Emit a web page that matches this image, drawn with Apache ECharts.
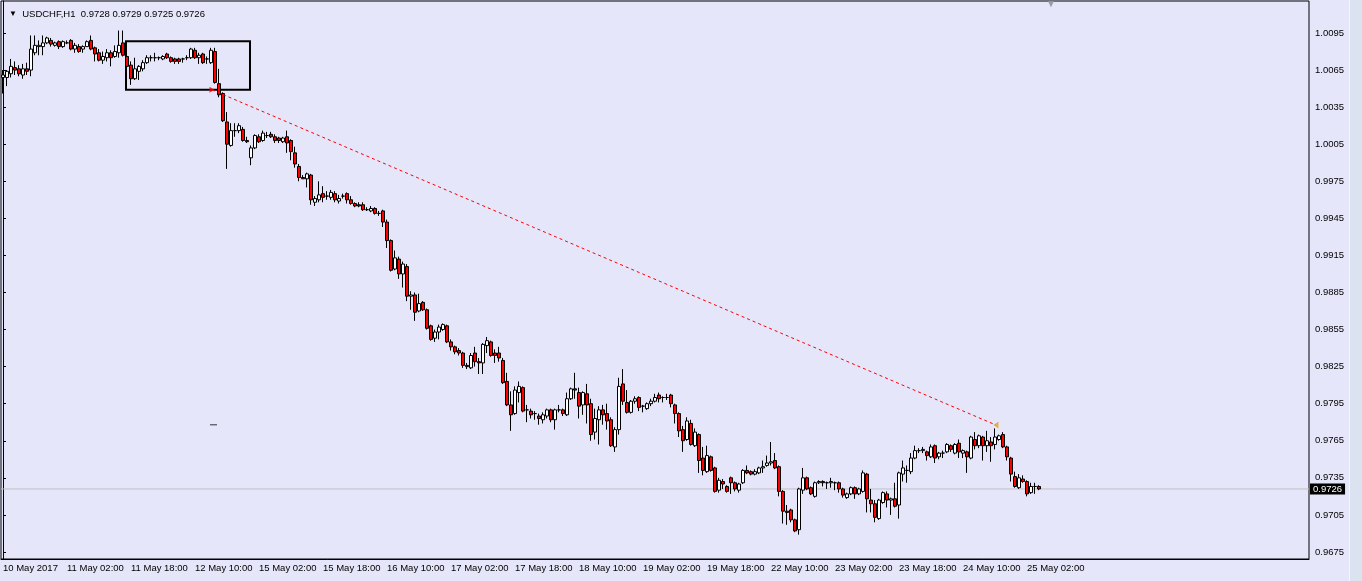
<!DOCTYPE html>
<html>
<head>
<meta charset="utf-8">
<title>USDCHF,H1</title>
<script src="https://cdn.jsdelivr.net/npm/echarts@6/dist/echarts.min.js"></script>
<style>
  html, body { margin: 0; padding: 0; background: #E6E6FA; overflow: hidden; }
  #chart { position: absolute; left: 0; top: 0; width: 1362px; height: 581px; }
  .side { position: absolute; left: 1349px; top: 0; width: 13px; height: 581px;
          background: #DAE3EF; border-left: 1px solid #F4F6FA; box-sizing: border-box; }
</style>
</head>
<body>
<div id="chart"></div>
<div class="side"></div>
<script>
// hourly bars, first one is 10 May 2017 10:00 (weekends skipped)
const opens = [
  1.0059,1.0059,1.0062,1.0067,1.0066,1.0061,1.0066,1.0065,1.0079,1.0084,
  1.0084,1.0087,1.0089,1.0085,1.0088,1.0084,1.0087,1.0089,1.0082,1.0084,
  1.0082,1.0084,1.0089,1.0083,1.0079,1.0073,1.0075,1.0079,1.0076,1.0079,
  1.0087,1.0076,1.0069,1.0058,1.0064,1.0066,1.0071,1.0075,1.0075,1.0075,
  1.0074,1.0078,1.0075,1.0074,1.0074,1.0074,1.0075,1.0075,1.0081,1.0075,
  1.0078,1.0074,1.0071,1.0080,1.0054,1.0046,1.0023,1.0004,1.0016,1.0016,
  1.0017,1.0008,0.9994,1.0002,1.0011,1.0008,1.0012,1.0013,1.0011,1.0010,
  1.0007,1.0011,1.0008,0.9998,0.9987,0.9978,0.9977,0.9980,0.9958,0.9960,
  0.9965,0.9963,0.9962,0.9965,0.9959,0.9963,0.9965,0.9960,0.9957,0.9956,
  0.9956,0.9952,0.9951,0.9953,0.9949,0.9951,0.9942,0.9927,0.9904,0.9912,
  0.9900,0.9906,0.9882,0.9883,0.9870,0.9877,0.9871,0.9858,0.9848,0.9853,
  0.9855,0.9858,0.9845,0.9841,0.9838,0.9836,0.9826,0.9824,0.9836,0.9829,
  0.9828,0.9842,0.9845,0.9836,0.9836,0.9830,0.9813,0.9794,0.9787,0.9804,
  0.9808,0.9790,0.9789,0.9787,0.9785,0.9782,0.9785,0.9790,0.9782,0.9790,
  0.9790,0.9786,0.9799,0.9807,0.9804,0.9794,0.9803,0.9795,0.9772,0.9782,
  0.9790,0.9787,0.9782,0.9760,0.9774,0.9811,0.9796,0.9788,0.9797,0.9800,
  0.9793,0.9791,0.9795,0.9797,0.9802,0.9800,0.9800,0.9802,0.9794,0.9787,
  0.9774,0.9766,0.9779,0.9761,0.9770,0.9751,0.9740,0.9752,0.9743,0.9725,
  0.9732,0.9728,0.9735,0.9731,0.9725,0.9731,0.9741,0.9740,0.9738,0.9739,
  0.9743,0.9745,0.9747,0.9749,0.9744,0.9724,0.9708,0.9709,0.9701,0.9693,
  0.9725,0.9735,0.9727,0.9720,0.9731,0.9732,0.9731,0.9731,0.9731,0.9731,
  0.9726,0.9719,0.9722,0.9727,0.9722,0.9724,0.9738,0.9717,0.9714,0.9702,
  0.9715,0.9722,0.9717,0.9718,0.9713,0.9738,0.9741,0.9740,0.9751,0.9757,
  0.9757,0.9756,0.9752,0.9761,0.9752,0.9755,0.9756,0.9761,0.9755,0.9763,
  0.9755,0.9756,0.9751,0.9766,0.9761,0.9768,0.9761,0.9764,0.9762,0.9766,
  0.9770,0.9760,0.9751,0.9736,0.9727,0.9734,0.9732,0.9723,0.9728,0.9728
];
const closes = [
  1.0061,1.0064,1.0068,1.0065,1.0062,1.0066,1.0064,1.0082,1.0085,1.0085,
  1.0087,1.0091,1.0086,1.0087,1.0084,1.0088,1.0087,1.0082,1.0085,1.0080,
  1.0084,1.0088,1.0082,1.0078,1.0073,1.0076,1.0079,1.0075,1.0080,1.0085,
  1.0077,1.0068,1.0058,1.0066,1.0068,1.0071,1.0075,1.0075,1.0075,1.0075,
  1.0076,1.0075,1.0072,1.0072,1.0072,1.0074,1.0075,1.0082,1.0075,1.0077,
  1.0071,1.0074,1.0081,1.0055,1.0045,1.0024,1.0005,1.0016,1.0016,1.0020,
  1.0008,1.0007,1.0002,1.0012,1.0007,1.0014,1.0012,1.0011,1.0008,1.0008,
  1.0010,1.0006,0.9999,0.9989,0.9978,0.9977,0.9981,0.9960,0.9961,0.9964,
  0.9962,0.9963,0.9966,0.9960,0.9961,0.9963,0.9960,0.9957,0.9955,0.9955,
  0.9952,0.9952,0.9953,0.9949,0.9949,0.9942,0.9927,0.9903,0.9913,0.9900,
  0.9908,0.9882,0.9883,0.9869,0.9876,0.9871,0.9856,0.9847,0.9853,0.9857,
  0.9859,0.9845,0.9841,0.9837,0.9836,0.9826,0.9825,0.9834,0.9829,0.9828,
  0.9843,0.9846,0.9834,0.9834,0.9832,0.9812,0.9794,0.9786,0.9806,0.9809,
  0.9789,0.9790,0.9786,0.9787,0.9783,0.9786,0.9790,0.9782,0.9790,0.9790,
  0.9787,0.9799,0.9807,0.9806,0.9793,0.9804,0.9794,0.9770,0.9783,0.9790,
  0.9786,0.9781,0.9761,0.9774,0.9809,0.9797,0.9788,0.9797,0.9799,0.9792,
  0.9793,0.9795,0.9797,0.9800,0.9799,0.9800,0.9800,0.9795,0.9787,0.9773,
  0.9765,0.9781,0.9762,0.9772,0.9749,0.9741,0.9753,0.9741,0.9724,0.9733,
  0.9730,0.9724,0.9731,0.9726,0.9730,0.9741,0.9739,0.9738,0.9740,0.9743,
  0.9744,0.9747,0.9748,0.9743,0.9724,0.9708,0.9707,0.9701,0.9692,0.9726,
  0.9735,0.9726,0.9722,0.9731,0.9732,0.9731,0.9731,0.9732,0.9731,0.9726,
  0.9721,0.9722,0.9727,0.9722,0.9726,0.9739,0.9718,0.9714,0.9703,0.9717,
  0.9723,0.9717,0.9718,0.9712,0.9739,0.9743,0.9741,0.9751,0.9757,0.9757,
  0.9758,0.9753,0.9760,0.9751,0.9755,0.9755,0.9762,0.9758,0.9762,0.9756,
  0.9757,0.9752,0.9768,0.9761,0.9769,0.9761,0.9765,0.9761,0.9768,0.9769,
  0.9760,0.9752,0.9738,0.9728,0.9735,0.9732,0.9722,0.9728,0.9728,0.9726
];
const lows = [
  1.0046,1.0052,1.0059,1.0061,1.0060,1.0058,1.0061,1.0060,1.0077,1.0077,
  1.0077,1.0086,1.0084,1.0084,1.0082,1.0083,1.0086,1.0081,1.0079,1.0079,
  1.0079,1.0084,1.0081,1.0072,1.0072,1.0070,1.0072,1.0068,1.0075,1.0075,
  1.0076,1.0049,1.0053,1.0057,1.0057,1.0064,1.0070,1.0072,1.0072,1.0073,
  1.0073,1.0074,1.0071,1.0070,1.0070,1.0071,1.0073,1.0074,1.0074,1.0070,
  1.0070,1.0070,1.0070,1.0054,1.0043,1.0023,0.9985,1.0003,1.0011,1.0014,
  1.0007,1.0006,0.9988,1.0001,1.0006,1.0007,1.0010,1.0010,1.0006,1.0006,
  1.0006,0.9998,0.9992,0.9986,0.9975,0.9977,0.9970,0.9956,0.9955,0.9958,
  0.9958,0.9960,0.9960,0.9958,0.9957,0.9961,0.9957,0.9956,0.9954,0.9954,
  0.9951,0.9951,0.9950,0.9948,0.9947,0.9938,0.9921,0.9902,0.9903,0.9896,
  0.9889,0.9878,0.9871,0.9862,0.9869,0.9870,0.9855,0.9846,0.9845,0.9847,
  0.9854,0.9844,0.9838,0.9835,0.9834,0.9824,0.9823,0.9823,0.9825,0.9819,
  0.9819,0.9836,0.9833,0.9828,0.9829,0.9811,0.9793,0.9773,0.9786,0.9796,
  0.9788,0.9780,0.9783,0.9782,0.9778,0.9779,0.9783,0.9780,0.9774,0.9788,
  0.9785,0.9785,0.9798,0.9799,0.9783,0.9786,0.9779,0.9765,0.9766,0.9762,
  0.9778,0.9774,0.9760,0.9756,0.9770,0.9794,0.9787,0.9787,0.9795,0.9789,
  0.9788,0.9790,0.9793,0.9796,0.9796,0.9796,0.9798,0.9792,0.9779,0.9768,
  0.9756,0.9765,0.9761,0.9760,0.9739,0.9737,0.9739,0.9740,0.9723,0.9723,
  0.9726,0.9723,0.9722,0.9724,0.9723,0.9730,0.9738,0.9737,0.9737,0.9738,
  0.9739,0.9744,0.9745,0.9742,0.9720,0.9698,0.9697,0.9699,0.9691,0.9689,
  0.9722,0.9725,0.9721,0.9719,0.9730,0.9728,0.9726,0.9727,0.9725,0.9723,
  0.9719,0.9718,0.9721,0.9718,0.9721,0.9723,0.9707,0.9707,0.9699,0.9701,
  0.9714,0.9711,0.9705,0.9711,0.9702,0.9732,0.9731,0.9738,0.9750,0.9755,
  0.9755,0.9749,0.9751,0.9747,0.9750,0.9751,0.9755,0.9756,0.9754,0.9751,
  0.9751,0.9739,0.9750,0.9758,0.9759,0.9749,0.9756,0.9748,0.9758,0.9765,
  0.9759,0.9749,0.9732,0.9727,0.9726,0.9731,0.9720,0.9722,0.9722,0.9725
];
const highs = [
  1.0065,1.0065,1.0074,1.0072,1.0069,1.0070,1.0071,1.0093,1.0093,1.0089,
  1.0093,1.0092,1.0091,1.0088,1.0089,1.0089,1.0089,1.0090,1.0087,1.0086,
  1.0085,1.0089,1.0093,1.0084,1.0082,1.0080,1.0082,1.0081,1.0085,1.0097,
  1.0097,1.0077,1.0072,1.0075,1.0069,1.0073,1.0077,1.0077,1.0079,1.0076,
  1.0077,1.0079,1.0076,1.0075,1.0075,1.0075,1.0077,1.0083,1.0083,1.0079,
  1.0079,1.0076,1.0083,1.0083,1.0066,1.0047,1.0031,1.0022,1.0022,1.0022,
  1.0019,1.0011,1.0004,1.0013,1.0013,1.0016,1.0015,1.0015,1.0013,1.0011,
  1.0011,1.0016,1.0009,1.0003,0.9989,0.9980,0.9982,0.9981,0.9963,0.9975,
  0.9971,0.9967,0.9968,0.9967,0.9964,0.9965,0.9966,0.9963,0.9958,0.9958,
  0.9958,0.9954,0.9955,0.9954,0.9951,0.9952,0.9944,0.9928,0.9919,0.9914,
  0.9910,0.9908,0.9886,0.9885,0.9884,0.9878,0.9872,0.9859,0.9855,0.9859,
  0.9860,0.9859,0.9847,0.9842,0.9840,0.9837,0.9828,0.9836,0.9841,0.9832,
  0.9844,0.9849,0.9846,0.9839,0.9841,0.9832,0.9820,0.9805,0.9809,0.9813,
  0.9809,0.9794,0.9791,0.9789,0.9787,0.9788,0.9791,0.9791,0.9791,0.9794,
  0.9791,0.9804,0.9808,0.9820,0.9808,0.9805,0.9811,0.9799,0.9791,0.9793,
  0.9794,0.9795,0.9784,0.9776,0.9816,0.9823,0.9806,0.9798,0.9801,0.9801,
  0.9794,0.9796,0.9799,0.9803,0.9804,0.9801,0.9803,0.9803,0.9795,0.9788,
  0.9777,0.9784,0.9782,0.9775,0.9771,0.9760,0.9761,0.9753,0.9744,0.9735,
  0.9734,0.9729,0.9736,0.9732,0.9731,0.9742,0.9745,0.9741,0.9742,0.9744,
  0.9749,0.9753,0.9764,0.9755,0.9745,0.9725,0.9713,0.9710,0.9702,0.9727,
  0.9743,0.9736,0.9728,0.9732,0.9733,0.9733,0.9732,0.9735,0.9732,0.9732,
  0.9727,0.9723,0.9728,0.9728,0.9727,0.9741,0.9739,0.9726,0.9717,0.9718,
  0.9724,0.9724,0.9719,0.9731,0.9740,0.9749,0.9745,0.9755,0.9761,0.9759,
  0.9760,0.9757,0.9762,0.9762,0.9756,0.9757,0.9763,0.9762,0.9763,0.9766,
  0.9758,0.9757,0.9769,0.9772,0.9770,0.9769,0.9773,0.9768,0.9775,0.9770,
  0.9772,0.9761,0.9752,0.9740,0.9738,0.9737,0.9733,0.9731,0.9731,0.9729
];

// time axis: one label every 16 bars
const tickLabels = [
  '10 May 2017', '11 May 02:00', '11 May 18:00', '12 May 10:00', '15 May 02:00',
  '15 May 18:00', '16 May 10:00', '17 May 02:00', '17 May 18:00', '18 May 10:00',
  '19 May 02:00', '19 May 18:00', '22 May 10:00', '23 May 02:00', '23 May 18:00',
  '24 May 10:00', '25 May 02:00'
];
const priceTicks = [
  0.9675, 0.9705, 0.9735, 0.9765, 0.9795, 0.9825, 0.9855, 0.9885,
  0.9915, 0.9945, 0.9975, 1.0005, 1.0035, 1.0065, 1.0095
];
const lastPrice = 0.9726;

// drawing objects (bar index, price)
const boxBars = [30.75, 61.75];
const boxPrices = [1.00884, 1.00491];
const trendBars = [52.25, 248.25];
const trendPrices = [1.00490, 0.97777];
const dashBars = [51.75, 53.5];
const dashPrice = 0.97779;

const slots = 327;      // visible bar slots incl. right shift
const priceMin = 0.96693;
const priceMax = 1.01209;
const labelStep = 16;

const months = ['Jan','Feb','Mar','Apr','May','Jun','Jul','Aug','Sep','Oct','Nov','Dec'];
const barTimes = [];
for (let t = Date.UTC(2017, 4, 10, 10); barTimes.length < slots; t += 3600e3) {
  const d = new Date(t);
  if (d.getUTCDay() === 0 || d.getUTCDay() === 6) continue;
  barTimes.push(d.getUTCDate() + ' ' + months[d.getUTCMonth()] + ' ' +
    String(d.getUTCHours()).padStart(2, '0') + ':00');
}

const ohlc = opens.map((o, i) => [o, closes[i], lows[i], highs[i]]);
const font = 'Liberation Sans';
const showTick = (index) => index % labelStep === 0 && index / labelStep < tickLabels.length;

const chart = echarts.init(document.getElementById('chart'));
const option = {
  animation: false,
  backgroundColor: '#E6E6FA',
  title: [
    {
      text: '{a|▼}  USDCHF,H1  0.9728 0.9729 0.9725 0.9726',
      left: 4, top: 4,
      textStyle: {
        fontFamily: font, fontSize: 9.5, fontWeight: 'normal', color: '#000',
        rich: { a: { fontSize: 8, color: '#000' } }
      }
    },
    {
      text: '▼', left: 1041, top: -6,
      textStyle: { fontSize: 10, color: '#9A9AAA', fontWeight: 'normal' }
    }
  ],
  grid: {
    left: 1, top: 1, right: 53, bottom: 22,
    show: true, borderColor: '#000', borderWidth: 1, backgroundColor: '#E6E6FA'
  },
  xAxis: [
    {
      type: 'category',
      data: barTimes,
      boundaryGap: true,
      axisLine: { lineStyle: { color: '#000', width: 1 } },
      axisTick: { interval: showTick, alignWithLabel: true, length: 4, lineStyle: { color: '#000' } },
      axisLabel: {
        interval: showTick,
        formatter: (v, i) => tickLabels[i / labelStep],
        align: 'left', margin: 4,
        color: '#000', fontFamily: font, fontSize: 9.5
      },
      splitLine: { show: false }
    },
    { type: 'value', min: -0.5, max: slots - 0.5, show: false }
  ],
  yAxis: {
    type: 'value',
    position: 'right',
    min: priceMin, max: priceMax,
    axisLine: { show: true, lineStyle: { color: '#000', width: 1 } },
    axisTick: { show: true, customValues: priceTicks, length: 3, lineStyle: { color: '#000' } },
    axisLabel: {
      customValues: priceTicks,
      formatter: (v) => v.toFixed(4),
      margin: 6, color: '#000', fontFamily: font, fontSize: 9.5
    },
    splitLine: { show: false }
  },
  series: [
    {
      type: 'line',
      name: 'bid',
      xAxisIndex: 1,
      z: 1,
      data: [[-0.5, lastPrice], [slots - 0.5, lastPrice]],
      symbol: 'none',
      silent: true,
      clip: false,
      lineStyle: { color: '#C0C0C0', width: 1 },
      endLabel: {
        show: true, distance: 1,
        backgroundColor: '#000', color: '#fff', padding: [1, 3, 0, 3],
        fontFamily: font, fontSize: 9.5,
        formatter: () => lastPrice.toFixed(4)
      }
    },
    {
      type: 'candlestick',
      name: 'USDCHF',
      data: ohlc,
      barWidth: 3,
      z: 3,
      itemStyle: {
        color: '#FFFFFF', color0: '#FF0000',
        borderColor: '#000', borderColor0: '#000', borderWidth: 1
      }
    },
    {
      type: 'line',
      name: 'trend',
      xAxisIndex: 1,
      z: 4,
      data: [[trendBars[0], trendPrices[0]], [trendBars[1], trendPrices[1]]],
      symbol: 'none',
      lineStyle: { color: '#FF0000', width: 1, type: [3, 3] },
      markArea: {
        silent: true,
        itemStyle: { color: 'rgba(0,0,0,0)', borderColor: '#000', borderWidth: 2 },
        data: [[{ coord: [boxBars[0], boxPrices[0]] }, { coord: [boxBars[1], boxPrices[1]] }]]
      }
    },
    {
      type: 'scatter',
      name: 'trend ends',
      xAxisIndex: 1,
      z: 5,
      symbol: 'triangle',
      data: [
        { value: [trendBars[0], trendPrices[0]], symbolRotate: -90, symbolSize: [6, 5], itemStyle: { color: '#FF0000' } },
        { value: [trendBars[1], trendPrices[1]], symbolRotate: 90, symbolSize: [7, 5], itemStyle: { color: '#DAA520' } }
      ]
    },
    {
      type: 'line',
      name: 'dash',
      xAxisIndex: 1,
      data: [[dashBars[0], dashPrice], [dashBars[1], dashPrice]],
      symbol: 'none',
      lineStyle: { color: '#303030', width: 1 }
    }
  ]
};
chart.setOption(option);
</script>
</body>
</html>
